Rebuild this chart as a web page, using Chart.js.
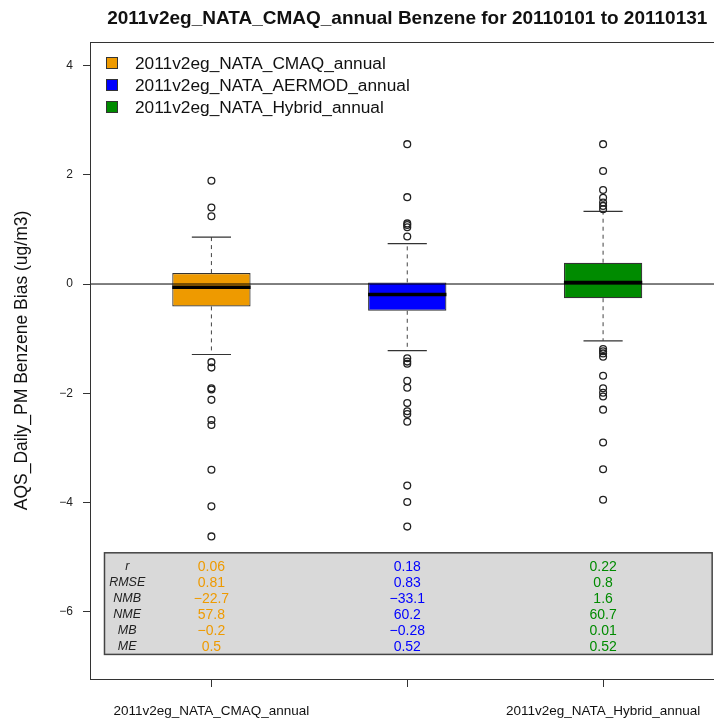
<!DOCTYPE html>
<html lang="en">
<head>
<meta charset="UTF-8">
<title>Benzene bias boxplot</title>
<script src="https://cdn.jsdelivr.net/npm/chart.js"></script>
<style>
	body { margin: 0; overflow: hidden; background: #fff; }
</style>
</head>
<body>
<canvas id="boxChart" width="730" height="720"></canvas>
<script>
// ---- data ----
const categories = ['2011v2eg_NATA_CMAQ_annual', '2011v2eg_NATA_AERMOD_annual', '2011v2eg_NATA_Hybrid_annual'];
const xTickLabels = ['2011v2eg_NATA_CMAQ_annual', '', '2011v2eg_NATA_Hybrid_annual'];
const seriesColors = ['#EE9A00', '#0000FF', '#008B00'];
const q1 = [-0.41, -0.49, -0.26];
const medians = [-0.06, -0.19, 0.03];
const q3 = [0.20, 0.03, 0.39];
const whiskerLow = [-1.29, -1.22, -1.04];
const whiskerHigh = [0.86, 0.74, 1.33];
const outliersCMAQ = [1.89, 1.40, 1.24, -1.43, -1.53, -1.91, -1.93, -2.12, -2.49, -2.58, -3.40, -4.07, -4.62];
const outliersAERMOD = [2.56, 1.59, 1.11, 1.08, 1.04, 0.87, -1.36, -1.42, -1.46, -1.77, -1.90, -2.18, -2.33, -2.38, -2.52, -3.69, -3.99, -4.44];
const outliersHybrid = [2.56, 2.07, 1.72, 1.58, 1.49, 1.43, 1.37, -1.19, -1.23, -1.27, -1.33, -1.68, -1.91, -1.99, -2.06, -2.30, -2.90, -3.39, -3.95];
const yTicks = [-6, -4, -2, 0, 2, 4];
const statNames = ['r', 'RMSE', 'NMB', 'NME', 'MB', 'ME'];
const statsCMAQ = ['0.06', '0.81', '\u221222.7', '57.8', '\u22120.2', '0.5'];
const statsAERMOD = ['0.18', '0.83', '\u221233.1', '60.2', '\u22120.28', '0.52'];
const statsHybrid = ['0.22', '0.8', '1.6', '60.7', '0.01', '0.52'];

// ---- layout ----
const xMin = 0.38, xMax = 3.62, yMin = -7.23, yMax = 4.43;
const boxHalf = 0.2, capHalf = 0.1;
const statBox = { x0: 0.454, x1: 3.557, y0: -4.92, y1: -6.78, labelX: 0.57 };
const FONT = '"Liberation Sans", Arial, Helvetica, sans-serif';

const outlierSets = [outliersCMAQ, outliersAERMOD, outliersHybrid];
const statSets = [statsCMAQ, statsAERMOD, statsHybrid];

// turn [x0,y0,x1,y1] segments into one broken line
function segments(list) {
	const pts = [];
	list.forEach(s => {
		pts.push({ x: s[0], y: s[1] }, { x: s[2], y: s[3] }, { x: s[2], y: null });
	});
	return pts;
}

const pos = categories.map((c, i) => i + 1);

const whiskerSegs = [];
const capSegs = [];
const medianSegs = [];
pos.forEach((x, i) => {
	whiskerSegs.push([x, q3[i], x, whiskerHigh[i]], [x, q1[i], x, whiskerLow[i]]);
	capSegs.push([x - capHalf, whiskerHigh[i], x + capHalf, whiskerHigh[i]], [x - capHalf, whiskerLow[i], x + capHalf, whiskerLow[i]]);
	medianSegs.push([x - boxHalf, medians[i], x + boxHalf, medians[i]]);
});

const outlierPoints = [];
outlierSets.forEach((arr, i) => arr.forEach(v => outlierPoints.push({ x: i + 1, y: v })));

const statTable = {
	id: 'statTable',
	afterDatasetsDraw(chart) {
		const { ctx, scales: { x, y } } = chart;
		const left = x.getPixelForValue(statBox.x0), right = x.getPixelForValue(statBox.x1);
		const top = y.getPixelForValue(statBox.y0), bottom = y.getPixelForValue(statBox.y1);
		ctx.save();
		ctx.fillStyle = '#d9d9d9';
		ctx.fillRect(left, top, right - left, bottom - top);
		ctx.strokeStyle = '#444';
		ctx.lineWidth = 1.5;
		ctx.strokeRect(left, top, right - left, bottom - top);
		ctx.textAlign = 'center';
		ctx.textBaseline = 'middle';
		statNames.forEach((name, r) => {
			const ry = top + 14 + r * 16;
			ctx.font = 'italic 12.5px ' + FONT;
			ctx.fillStyle = '#222';
			ctx.fillText(name, x.getPixelForValue(statBox.labelX), ry);
			ctx.font = '14px ' + FONT;
			statSets.forEach((s, i) => {
				ctx.fillStyle = seriesColors[i];
				ctx.fillText(s[r], x.getPixelForValue(i + 1), ry);
			});
		});
		ctx.restore();
	}
};

const frameAndLegend = {
	id: 'frameAndLegend',
	afterDraw(chart) {
		const { ctx, chartArea: a } = chart;
		ctx.save();
		ctx.strokeStyle = '#333';
		ctx.lineWidth = 1;
		ctx.strokeRect(a.left + 0.5, a.top + 0.5, a.right - a.left, a.bottom - a.top);
		ctx.font = '17.3px ' + FONT;
		ctx.textBaseline = 'middle';
		ctx.textAlign = 'left';
		categories.forEach((c, i) => {
			const ly = a.top + 21 + i * 22;
			ctx.fillStyle = seriesColors[i];
			ctx.fillRect(a.left + 16, ly - 6, 12, 12);
			ctx.strokeStyle = '#333';
			ctx.strokeRect(a.left + 16.5, ly - 5.5, 11, 11);
			ctx.fillStyle = '#111';
			ctx.fillText(c, a.left + 45, ly + 1);
		});
		ctx.restore();
	}
};

new Chart(document.getElementById('boxChart'), {
	type: 'scatter',
	data: {
		datasets: [{
			type: 'line',
			label: 'zero',
			data: [{ x: xMin, y: 0 }, { x: xMax, y: 0 }],
			borderColor: '#000',
			borderWidth: 1,
			pointRadius: 0,
			order: 1
		}, {
			type: 'scatter',
			label: 'outliers',
			data: outlierPoints,
			pointStyle: 'circle',
			pointRadius: 3.4,
			backgroundColor: 'rgba(0,0,0,0)',
			borderColor: '#222',
			borderWidth: 1.3,
			order: 2
		}, {
			type: 'line',
			label: 'medians',
			data: segments(medianSegs),
			borderColor: '#000',
			borderWidth: 3.5,
			pointRadius: 0,
			spanGaps: false,
			order: 3
		}, {
			type: 'line',
			label: 'caps',
			data: segments(capSegs),
			borderColor: '#333',
			borderWidth: 1.2,
			pointRadius: 0,
			spanGaps: false,
			order: 4
		}, {
			type: 'line',
			label: 'whiskers',
			data: segments(whiskerSegs),
			borderColor: '#444',
			borderWidth: 1,
			borderDash: [4, 4],
			pointRadius: 0,
			spanGaps: false,
			order: 5
		}, {
			type: 'bar',
			label: 'boxes',
			data: pos.map((x, i) => ({ x: x, y: [q1[i], q3[i]] })),
			backgroundColor: seriesColors,
			borderColor: '#333',
			borderWidth: 1.2,
			borderSkipped: false,
			categoryPercentage: 1,
			barPercentage: boxHalf * 2,
			order: 6
		}]
	},
	options: {
		responsive: false,
		animation: false,
		layout: { padding: { left: 0, right: 5.5, top: 0, bottom: 0 } },
		plugins: {
			legend: { display: false },
			tooltip: { enabled: false },
			title: {
				display: true,
				fullSize: false,
				text: '2011v2eg_NATA_CMAQ_annual Benzene for 20110101 to 20110131',
				color: '#111',
				font: { family: FONT, size: 19, weight: 'bold' },
				padding: { top: 7, bottom: 12.2 }
			}
		},
		scales: {
			x: {
				type: 'linear',
				min: xMin,
				max: xMax,
				offset: false,
				afterBuildTicks: s => { s.ticks = pos.map(v => ({ value: v })); },
				afterFit: s => { s.height = 41; },
				grid: { offset: false, drawOnChartArea: false, drawTicks: true, tickLength: 8, color: '#333' },
				border: { display: false },
				ticks: {
					autoSkip: false,
					maxRotation: 0,
					padding: 16,
					color: '#111',
					font: { family: FONT, size: 13.5 },
					callback: (v, i) => xTickLabels[i]
				}
			},
			y: {
				type: 'linear',
				min: yMin,
				max: yMax,
				afterBuildTicks: s => { s.ticks = yTicks.map(v => ({ value: v })); },
				afterFit: s => { s.width = 90; },
				grid: { drawOnChartArea: false, drawTicks: true, tickLength: 7, color: '#333' },
				border: { display: false },
				ticks: {
					padding: 10,
					color: '#222',
					font: { family: FONT, size: 12 },
					callback: v => String(v).replace('-', '\u2212')
				},
				title: {
					display: true,
					text: 'AQS_Daily_PM Benzene Bias (ug/m3)',
					color: '#111',
					font: { family: FONT, size: 17.5 },
					padding: { top: 12, bottom: 0 }
				}
			}
		}
	},
	plugins: [statTable, frameAndLegend]
});
</script>
</body>
</html>
